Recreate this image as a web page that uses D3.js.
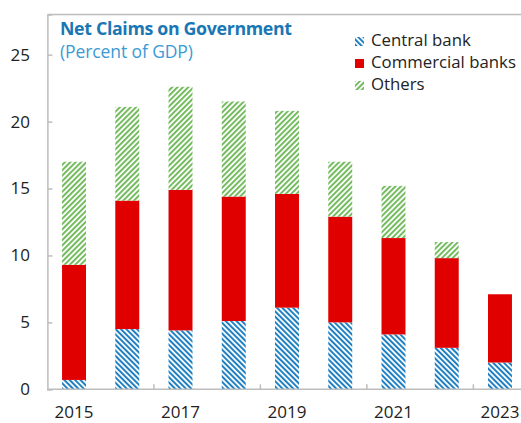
<!DOCTYPE html>
<html>
<head>
<meta charset="utf-8">
<script src="https://cdn.jsdelivr.net/npm/d3@7"></script>
<style>
  body { margin: 0; background: #fff; }
  text { font-family: "Open Sans", "Noto Sans", sans-serif; }
</style>
</head>
<body>
<div id="chart"></div>
<script>
// values (percent of GDP)
const years = ["2015", "2016", "2017", "2018", "2019", "2020", "2021", "2022", "2023"];
const centralBank = [0.7, 4.5, 4.4, 5.1, 6.1, 5.0, 4.1, 3.1, 2.0];
const commercialBanks = [8.6, 9.6, 10.5, 9.3, 8.5, 7.9, 7.2, 6.7, 5.1];
const others = [7.7, 7.0, 7.7, 7.1, 6.2, 4.1, 3.9, 1.2, 0];
const yTicks = [0, 5, 10, 15, 20, 25];
const xLabels = ["2015", "2017", "2019", "2021", "2023"];
const seriesNames = ["Central bank", "Commercial banks", "Others"];

const width = 521, height = 423;

const svg = d3.select("#chart").append("svg")
    .attr("width", width)
    .attr("height", height);

const defs = svg.append("defs");

function stripes(id, color, angle) {
    const p = defs.append("pattern")
        .attr("id", id)
        .attr("patternUnits", "userSpaceOnUse")
        .attr("width", 3.8)
        .attr("height", 3.8)
        .attr("patternTransform", `rotate(${angle})`);
    p.append("rect").attr("width", 3.8).attr("height", 3.8).attr("fill", "#fff");
    p.append("rect").attr("width", 2).attr("height", 3.8).attr("fill", color);
}
stripes("blueStripes", "#1f7fc0", -45);
stripes("greenStripes", "#74bb5f", 45);

const fills = ["url(#blueStripes)", "#e00000", "url(#greenStripes)"];

const x = d3.scaleBand()
    .domain(years)
    .range([47.4, 526.6]);

const y = d3.scaleLinear()
    .domain([0, 28])
    .range([389.3, 14.5]);

const rows = years.map((yr, i) => ({
    year: yr,
    "Central bank": centralBank[i],
    "Commercial banks": commercialBanks[i],
    "Others": others[i]
}));
const stacked = d3.stack().keys(seriesNames)(rows);

const barW = x.bandwidth() * 0.45;

svg.selectAll("g.series")
    .data(stacked)
    .join("g")
    .attr("class", "series")
    .attr("fill", (d, i) => fills[i])
    .selectAll("rect")
    .data(d => d.filter(s => s[1] - s[0] > 0))
    .join("rect")
    .attr("x", d => x(d.data.year) + (x.bandwidth() - barW) / 2)
    .attr("width", barW)
    .attr("y", d => y(d[1]))
    .attr("height", d => y(d[0]) - y(d[1]));

// frame: top border and left axis
const axisColor = "#bdbdbd";
svg.append("line")
    .attr("x1", x.range()[0]).attr("x2", width)
    .attr("y1", y(28)).attr("y2", y(28))
    .attr("stroke", axisColor).attr("stroke-width", 1.5);

const yAxis = svg.append("g")
    .attr("transform", `translate(${x.range()[0]},0)`)
    .call(d3.axisRight(y).tickValues(yTicks).tickSize(5).tickFormat(""));
yAxis.select(".domain").attr("stroke", axisColor).attr("stroke-width", 1.5);
yAxis.selectAll(".tick line").attr("stroke", axisColor).attr("stroke-width", 1.5);

svg.append("g")
    .selectAll("text")
    .data(yTicks)
    .join("text")
    .attr("x", 30)
    .attr("y", d => y(d))
    .attr("dy", "0.35em")
    .attr("text-anchor", "end")
    .attr("font-size", 17)
    .attr("fill", "#222")
    .text(d => d);

// x axis: ticks every two categories, pointing up
const boundaries = [2, 4, 6, 8].map(i => x.range()[0] + i * x.step());
svg.append("line")
    .attr("x1", x.range()[0]).attr("x2", width)
    .attr("y1", y(0)).attr("y2", y(0))
    .attr("stroke", axisColor).attr("stroke-width", 1.5);
svg.append("g")
    .selectAll("line")
    .data(boundaries)
    .join("line")
    .attr("x1", d => d).attr("x2", d => d)
    .attr("y1", y(0)).attr("y2", y(0) - 5)
    .attr("stroke", axisColor).attr("stroke-width", 1.5);

svg.append("g")
    .selectAll("text")
    .data(xLabels)
    .join("text")
    .attr("x", d => x(d) + x.bandwidth() / 2)
    .attr("y", 418)
    .attr("text-anchor", "middle")
    .attr("font-size", 17)
    .attr("fill", "#222")
    .text(d => d);

// title
svg.append("text")
    .attr("x", 60).attr("y", 35)
    .attr("font-size", 17.8).attr("font-weight", "bold")
    .attr("fill", "#1a77b3")
    .attr("letter-spacing", -0.35)
    .text("Net Claims on Government");
svg.append("text")
    .attr("x", 60).attr("y", 58)
    .attr("font-size", 17.5)
    .attr("fill", "#3a9bd5")
    .attr("letter-spacing", -0.1)
    .text("(Percent of GDP)");

// legend
const legend = svg.append("g")
    .selectAll("g")
    .data(seriesNames)
    .join("g")
    .attr("transform", (d, i) => `translate(355,${46 + i * 22})`);
legend.append("rect")
    .attr("x", 0).attr("y", -9)
    .attr("width", 9).attr("height", 9)
    .attr("fill", (d, i) => fills[i]);
legend.append("text")
    .attr("x", 16).attr("y", 0)
    .attr("font-size", 16.8)
    .attr("fill", "#222")
    .text(d => d);
</script>
</body>
</html>
